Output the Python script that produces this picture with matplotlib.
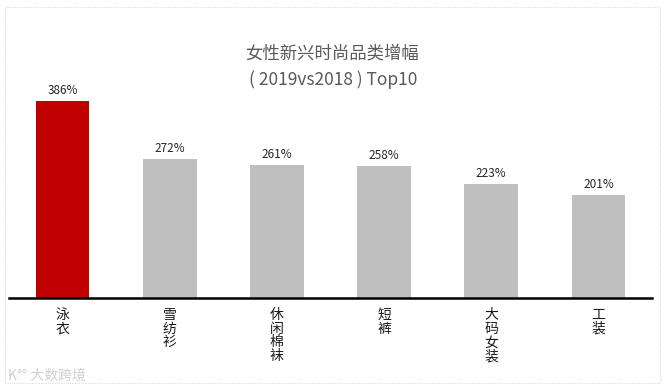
import matplotlib
matplotlib.use("Agg")
import matplotlib.pyplot as plt
from matplotlib.patches import Rectangle

plt.rcParams['font.family'] = ['Noto Sans CJK SC', 'DejaVu Sans']

categories = ["泳衣", "雪纺衫", "休闲棉袜", "短裤", "大码女装", "工装"]
values = [386, 272, 261, 258, 223, 201]
labels = ["386%", "272%", "261%", "258%", "223%", "201%"]
colors = ["#C00000", "#BFBFBF", "#BFBFBF", "#BFBFBF", "#BFBFBF", "#BFBFBF"]

W, H = 664, 390
fig = plt.figure(figsize=(W / 100, H / 100), dpi=100)
fig.patch.set_facecolor("white")

# outer light border
fig.add_artist(Rectangle((5 / W, 7 / H), 655 / W, 376 / H, transform=fig.transFigure,
                         fill=False, edgecolor="#DDDDDD", linewidth=0.8, linestyle=(0, (1, 1))))

ax_left, ax_right = 9 / W, 652 / W
ax_bottom = (H - 298) / H
ax_top = (H - 20) / H
ax = fig.add_axes([ax_left, ax_bottom, ax_right - ax_left, ax_top - ax_bottom])

x = list(range(len(categories)))
ax.bar(x, values, width=0.5, color=colors)
ax.set_xlim(-0.5, 5.5)
ax.set_ylim(0, 545)

for xi, v, lab in zip(x, values, labels):
    ax.text(xi, v + 8, lab, ha="center", va="bottom", fontsize=8.5, color="#262626")

for s in ["top", "right", "left"]:
    ax.spines[s].set_visible(False)
ax.spines["bottom"].set_linewidth(1.8)
ax.spines["bottom"].set_color("black")
ax.set_yticks([])
ax.set_xticks(x)
ax.set_xticklabels(["\n".join(c) for c in categories], fontsize=10, color="#1a1a1a",
                   linespacing=0.98, va="top")
ax.tick_params(axis="x", length=0, pad=7)

fig.text(332 / W, 1 - 53 / H, "女性新兴时尚品类增幅", ha="center", va="center",
         fontsize=12.5, color="#595959")
fig.text(333 / W, 1 - 80 / H, "( 2019vs2018 ) Top10", ha="center", va="center",
         fontsize=12.5, color="#595959")

fig.text(8 / W, 1 - 376 / H, "K°° 大数跨境", ha="left", va="center",
         fontsize=10, color="#D0D0D0")

fig.savefig("out.png", dpi=100)
